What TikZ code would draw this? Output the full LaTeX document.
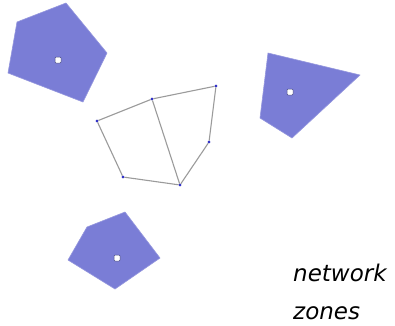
\documentclass[tikz,border=0pt]{standalone}
\usepackage{fontspec}
\setmainfont{DejaVu Sans}
\begin{document}
\begin{tikzpicture}[x=1pt,y=-1pt,
  zone/.style={fill=zonefill,draw=zonefill!80!white,line width=0.6pt,line join=round},
  ctr/.style={draw=zonefill!60!black,fill=white,rounded corners=1pt,minimum size=6pt,inner sep=0pt,line width=0.5pt},
  vtx/.style={circle,fill=vtxblue,inner sep=0pt,minimum size=2.6pt},
  link/.style={draw=linkgray,line width=1.1pt},
  lbl/.style={anchor=base west,inner sep=0pt,font=\fontsize{23}{27}\selectfont\itshape}]
\definecolor{zonefill}{RGB}{122,125,214}
\definecolor{vtxblue}{RGB}{50,50,200}
\definecolor{linkgray}{RGB}{155,155,155}
\useasboundingbox (0,0) rectangle (395,325);
\fill[white] (0,0) rectangle (395,325);
% zones
\draw[zone] (17,22) -- (66,3) -- (107,53) -- (83,102) -- (8,73) -- cycle;
\node[ctr] (c1) at (58,60) {};
\draw[zone] (268,53) -- (360,75) -- (292,138) -- (260,118) -- cycle;
\node[ctr] (c2) at (290,92) {};
\draw[zone] (87,227) -- (125,212) -- (160,258) -- (115,289) -- (68,260) -- cycle;
\node[ctr] (c3) at (117,258) {};
% network
\node[vtx] (a) at (97,121) {};
\node[vtx] (b) at (152,99) {};
\node[vtx] (c) at (216,86) {};
\node[vtx] (d) at (209,142) {};
\node[vtx] (e) at (180,185) {};
\node[vtx] (f) at (123,177) {};
\draw[link] (a) -- (b) -- (c) -- (d) -- (e) -- (f) -- (a);
\draw[link] (b) -- (e);
\foreach \n in {a,b,c,d,e,f} \node[vtx] at (\n) {};
\node[lbl] (t1) at (293,281) {network};
\node[lbl] (t2) at (293,319) {zones};
\end{tikzpicture}
\end{document}
